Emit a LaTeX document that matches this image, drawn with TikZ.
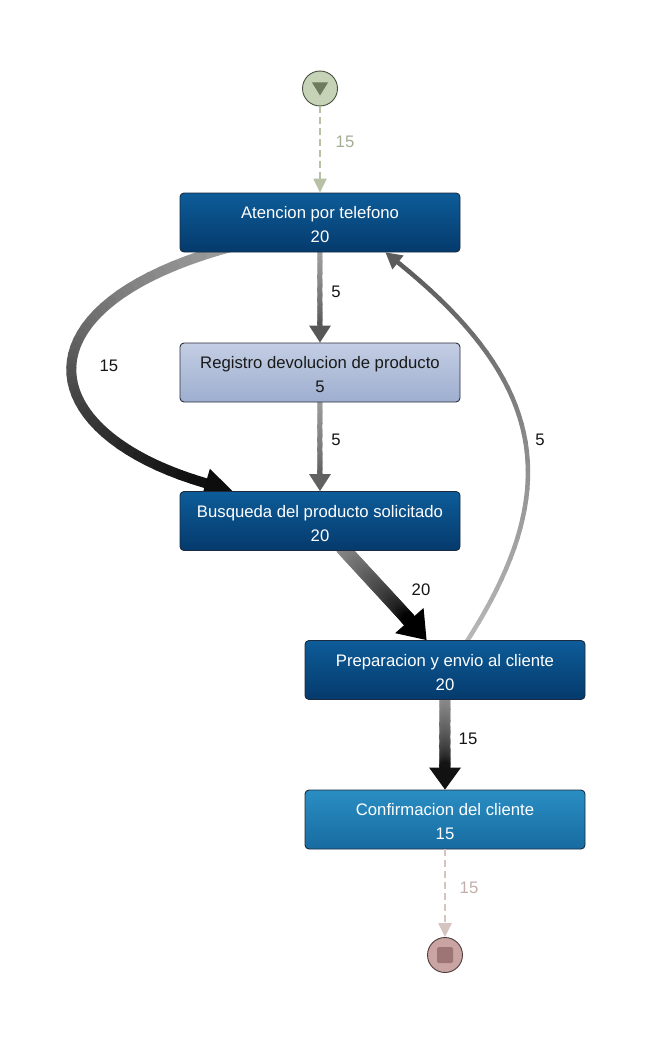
\documentclass[tikz,border=0pt]{standalone}
\usepackage{fontspec}
\setmainfont{Liberation Sans}
\usetikzlibrary{calc,arrows.meta}
\pgfdeclarelayer{bg}
\pgfsetlayers{bg,main}

\definecolor{actTop}{HTML}{0D5C99}
\definecolor{actBot}{HTML}{053A6C}
\definecolor{actLine}{HTML}{1B2A3E}
\definecolor{regTop}{HTML}{C4CEE4}
\definecolor{regBot}{HTML}{9DAECF}
\definecolor{regLine}{HTML}{2C2E3A}
\definecolor{cnfTop}{HTML}{2A8EC3}
\definecolor{cnfBot}{HTML}{176BA0}
\definecolor{startFill}{HTML}{C7D3B7}
\definecolor{startLine}{HTML}{45503F}
\definecolor{startMark}{HTML}{6C7C5C}
\definecolor{startEdge}{HTML}{B6C1A6}
\definecolor{startLab}{HTML}{A2AE94}
\definecolor{endFill}{HTML}{CAA4A3}
\definecolor{endLine}{HTML}{4E3B3B}
\definecolor{endMark}{HTML}{9C7574}
\definecolor{endEdge}{HTML}{D6C4C0}
\definecolor{endLab}{HTML}{C2ADA9}

% taller first line, so the two text lines sit a little lower in a box
\newcommand\firstline{\rule{0pt}{16.5pt}}

% flow edge drawn as a cubic curve whose colour runs from #5 to #6,
% ending in a filled triangular head
% #1 start, #2 #3 controls, #4 tip, #5 #6 colours, #7 width,
% #8 head length, #9 head half-width
\newcommand\flowedge[9]{%
  \colorlet{feS}{#5}%
  \colorlet{feE}{#6}%
  \coordinate (feA) at #1;
  \coordinate (feB) at #2;
  \coordinate (feC) at #3;
  \coordinate (feT) at #4;
  \coordinate (feD) at ($(feT)!#8!(feC)$);
  \foreach \k in {0,...,40}{%
    \pgfmathsetmacro\fes{\k/40}%
    \pgfmathsetmacro\fea{(1-\fes)^3}%
    \pgfmathsetmacro\feb{3*(1-\fes)^2*\fes}%
    \pgfmathsetmacro\fec{3*(1-\fes)*\fes^2}%
    \pgfmathsetmacro\fed{\fes^3}%
    \coordinate (fe\k) at ($\fea*(feA)+\feb*(feB)+\fec*(feC)+\fed*(feD)$);
  }%
  \foreach \k [remember=\k as \kp (initially 0)] in {1,...,40}{%
    \pgfmathtruncatemacro\fep{100*(\k-0.5)/40}%
    \draw[line width=#7, line cap=round, color=feE!\fep!feS] (fe\kp) -- (fe\k);
  }%
  \fill[feE] (feT) -- ($(feD)!#9!90:(feT)$) -- ($(feD)!#9!-90:(feT)$) -- cycle;
}

\tikzset{
  txt/.style={font=\fontsize{16.7}{24}\selectfont},
  actbox/.style={txt, rounded corners=4pt, minimum width=280pt, minimum height=59pt,
    inner sep=0pt, align=center, line width=0.9pt},
  actdark/.style={actbox, draw=actLine, top color=actTop, bottom color=actBot, text=white},
  actlight/.style={actbox, draw=regLine, top color=regTop, bottom color=regBot, text=black!90},
  actmid/.style={actbox, draw=actLine, top color=cnfTop, bottom color=cnfBot, text=white},
  endpoint/.style={circle, minimum size=35pt, inner sep=0pt, line width=0.9pt},
  dashedge/.style={line width=2.4pt, dash pattern=on 7pt off 4pt,
    -{Triangle[length=14pt,width=13pt]}},
  edgelab/.style={txt, text=black!92, inner sep=0pt},
}

\begin{document}
\begin{tikzpicture}[x=1pt,y=-1pt]
\useasboundingbox (0,0) rectangle (661,1043);

% activities
\node[endpoint, fill=startFill, draw=startLine] (start) at (320,88.5) {};
\node[actdark] (aten) at (320,222.5) {\firstline Atencion por telefono\\20};
\node[actlight] (reg) at (320,372.5) {\firstline Registro devolucion de producto\\5};
\node[actdark] (busq) at (320,521) {\firstline Busqueda del producto solicitado\\20};
\node[actdark] (prep) at (445,670) {\firstline Preparacion y envio al cliente\\20};
\node[actmid] (conf) at (445,819.5) {\firstline Confirmacion del cliente\\15};
\node[endpoint, fill=endFill, draw=endLine] (end) at (445,955) {};

% start and end marks
\fill[startMark] ($(start)+(-8,-6)$) -- ($(start)+(8,-6)$) -- ($(start)+(0,7)$) -- cycle;
\fill[endMark, rounded corners=1.5pt] ($(end)+(-8,-8)$) rectangle ($(end)+(8,8)$);

% connectors
\draw[dashedge, startEdge] (start) -- (aten);
\draw[dashedge, endEdge] (conf) -- (end);

\begin{pgfonlayer}{bg}
  % Atencion -> Registro
  \flowedge{($(aten.south)+(0,-3)$)}{($(aten.south)+(0,30)$)}{($(aten.south)+(0,60)$)}{(reg.north)}
    {black!36}{black!66}{5pt}{17pt}{11pt}
  % Registro -> Busqueda
  \flowedge{($(reg.south)+(0,-3)$)}{($(reg.south)+(0,30)$)}{($(reg.south)+(0,60)$)}{(busq.north)}
    {black!38}{black!62}{5pt}{17pt}{11pt}
  % Atencion -> Busqueda, round the left side
  \flowedge{($(aten.south west)+(53,-6)$)}{(14,305)}{(30,432)}{($(busq.north west)+(53,0)$)}
    {black!38}{black!95}{10pt}{28pt}{15pt}
  % Busqueda -> Preparacion
  \flowedge{($(busq.south west)+(163,-3)$)}{(372,580)}{(400,610)}{($(prep.north west)+(122,0)$)}
    {black!45}{black}{14pt}{26pt}{19pt}
  % Preparacion -> Confirmacion
  \flowedge{($(prep.south)+(0,-3)$)}{($(prep.south)+(0,30)$)}{($(prep.south)+(0,60)$)}{(conf.north)}
    {black!42}{black!93}{11pt}{22pt}{16pt}
  % Preparacion -> Atencion, back up the right side
  \flowedge{($(prep.north west)+(160,5)$)}{(564,492)}{(550,385)}{($(aten.south west)+(206,0)$)}
    {black!28}{black!64}{4.5pt}{16pt}{9pt}
\end{pgfonlayer}

% connector labels
\node[edgelab, text=startLab] (l0) at (345,142) {15};
\node[edgelab] (l1) at (336,292) {5};
\node[edgelab] (l2) at (109,366) {15};
\node[edgelab] (l3) at (336,440) {5};
\node[edgelab] (l4) at (540,440) {5};
\node[edgelab] (l5) at (421,590) {20};
\node[edgelab] (l6) at (468,739) {15};
\node[edgelab, text=endLab] (l7) at (469,888) {15};
\end{tikzpicture}
\end{document}
